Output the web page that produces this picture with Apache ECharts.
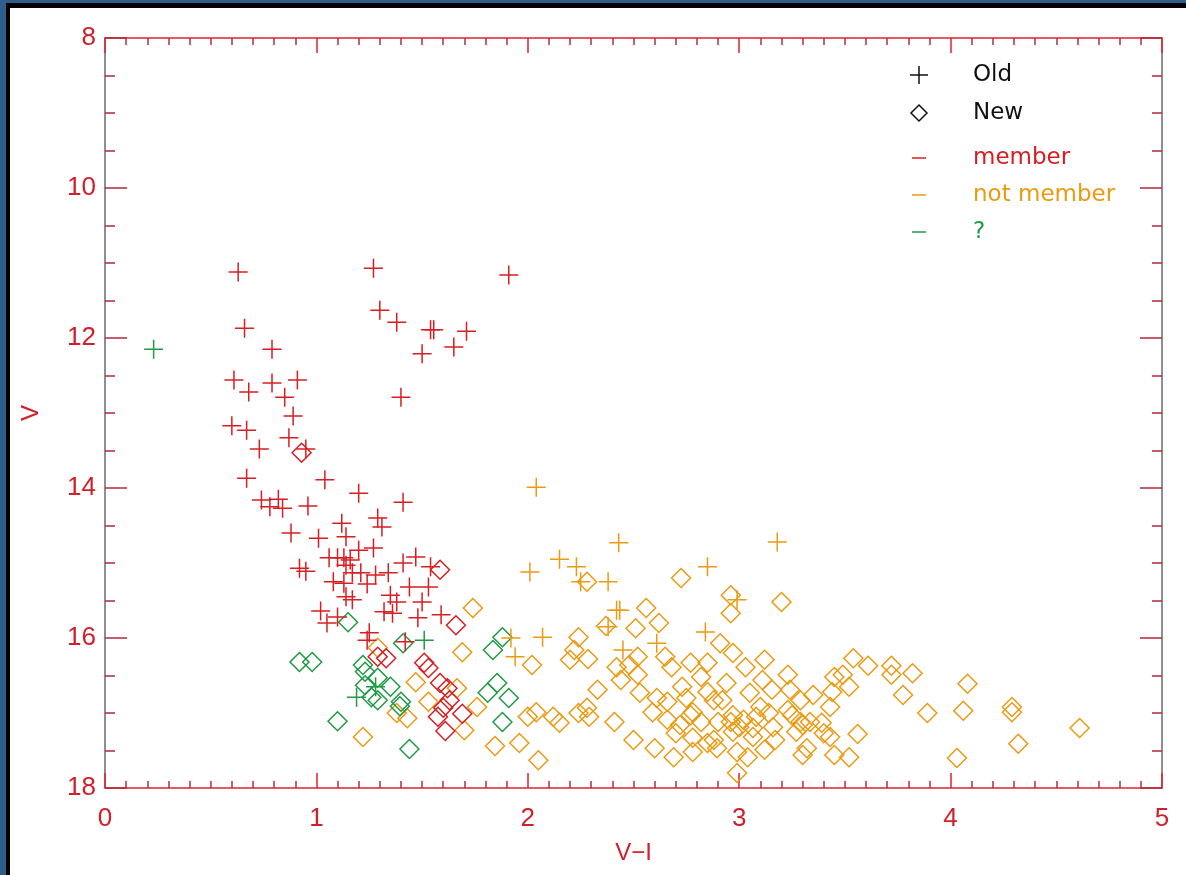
<!DOCTYPE html>
<html>
<head>
<meta charset="utf-8">
<script src="https://cdn.jsdelivr.net/npm/echarts@6/dist/echarts.min.js"></script>
<style>
html,body{margin:0;padding:0;width:1186px;height:875px;overflow:hidden;background:#2c5d8d;}
#frame{position:absolute;left:6px;top:3px;width:1180px;height:872px;background:#000;}
#paper{position:absolute;left:10px;top:8px;width:1176px;height:867px;background:#fff;}
#chart{position:absolute;left:0;top:0;width:1186px;height:875px;}
</style>
</head>
<body>
<div id="frame"></div>
<div id="paper"></div>
<div id="chart"></div>
<script>
// ---- data: [V-I, V] ----
const oldMember = [[0.63,11.12],[1.27,11.07],[1.91,11.16],[0.66,11.87],[1.30,11.63],[1.38,11.79],[1.54,11.89],[1.555,11.89],[1.71,11.91],[1.65,12.12],[1.50,12.21],[0.79,12.15],[0.61,12.56],[0.68,12.72],[0.79,12.60],[0.85,12.79],[0.91,12.56],[1.40,12.79],[0.89,13.04],[0.60,13.17],[0.67,13.23],[0.87,13.33],[0.73,13.48],[0.95,13.48],[0.67,13.87],[1.04,13.89],[1.20,14.07],[1.41,14.19],[0.74,14.16],[0.78,14.25],[0.82,14.15],[0.84,14.27],[0.96,14.24],[1.12,14.47],[1.29,14.40],[1.31,14.52],[0.88,14.60],[1.01,14.67],[1.14,14.65],[1.27,14.80],[1.20,14.83],[1.10,14.93],[1.13,14.93],[1.16,14.96],[1.06,14.93],[1.47,14.92],[1.41,15.00],[0.92,15.07],[0.95,15.11],[1.14,15.03],[1.17,15.13],[1.21,15.13],[1.34,15.13],[1.28,15.16],[1.08,15.25],[1.13,15.27],[1.24,15.28],[1.54,15.05],[1.53,15.32],[1.44,15.32],[1.35,15.43],[1.14,15.45],[1.17,15.49],[1.38,15.52],[1.50,15.52],[1.02,15.64],[1.10,15.72],[1.05,15.80],[1.32,15.65],[1.36,15.67],[1.48,15.73],[1.59,15.69],[1.25,15.93],[1.24,16.03],[1.42,16.05]];
const oldNotMember = [[2.04,13.99],[2.43,14.73],[3.18,14.72],[2.15,14.95],[2.23,15.05],[2.01,15.12],[2.85,15.05],[2.25,15.25],[2.38,15.25],[2.42,15.63],[2.435,15.63],[2.38,15.85],[2.99,15.49],[2.07,15.99],[2.61,16.07],[2.84,15.92],[2.45,16.16],[1.94,16.25],[1.92,16.00]];
const oldUnknown = [[0.23,12.15],[1.51,16.03],[1.19,16.79],[1.28,16.65]];
const newMember = [[0.93,13.53],[1.585,15.09],[1.66,15.83],[1.29,16.25],[1.33,16.27],[1.51,16.33],[1.53,16.40],[1.585,16.60],[1.62,16.67],[1.63,16.83],[1.60,16.93],[1.575,17.05],[1.61,17.24],[1.69,17.01]];
const newNotMember = [[1.74,15.60],[1.69,16.19],[1.29,16.13],[1.47,16.59],[1.53,16.85],[1.665,16.67],[1.70,17.23],[1.43,17.07],[1.22,17.32],[1.76,16.92],[1.845,17.44],[1.38,17.00],[1.96,17.40],[2.02,16.36],[2.05,17.63],[2.00,17.05],[2.04,16.99],[2.12,17.05],[2.15,17.13],[2.24,17.00],[2.28,16.93],[2.29,17.05],[2.33,16.69],[2.41,17.12],[2.24,15.99],[2.22,16.16],[2.20,16.29],[2.285,16.28],[2.28,15.25],[2.37,15.84],[2.51,15.87],[2.56,15.60],[2.62,15.80],[2.725,15.20],[2.96,15.43],[2.96,15.67],[3.20,15.52],[2.42,16.39],[2.48,16.36],[2.52,16.25],[2.52,16.49],[2.44,16.56],[2.65,16.25],[2.68,16.39],[2.77,16.33],[2.85,16.33],[2.82,16.52],[2.73,16.65],[2.85,16.72],[2.91,16.07],[2.97,16.20],[3.03,16.39],[3.12,16.29],[3.23,16.49],[2.53,16.73],[2.61,16.80],[2.66,16.85],[2.75,16.80],[2.78,16.99],[2.88,16.83],[2.92,16.83],[2.94,16.60],[3.05,16.73],[3.11,16.56],[3.155,16.69],[3.24,16.69],[3.29,16.83],[3.35,16.76],[3.10,16.92],[3.14,17.00],[3.23,16.96],[3.25,17.03],[3.335,17.12],[2.59,16.99],[2.66,17.09],[2.72,17.16],[2.77,17.03],[2.82,17.12],[2.90,17.12],[2.96,17.12],[3.00,17.19],[3.065,17.20],[3.16,17.19],[3.29,17.12],[2.70,17.27],[2.78,17.33],[2.85,17.40],[2.97,17.25],[3.065,17.32],[3.17,17.36],[3.27,17.25],[3.32,17.47],[2.50,17.36],[2.60,17.47],[2.69,17.59],[2.78,17.52],[2.88,17.36],[2.895,17.47],[2.99,17.52],[3.04,17.59],[3.12,17.49],[3.30,17.56],[2.99,17.80],[3.54,16.27],[3.61,16.37],[3.72,16.37],[3.72,16.49],[3.82,16.47],[3.775,16.76],[4.08,16.61],[3.89,17.00],[4.06,16.97],[4.29,16.92],[4.29,16.99],[4.32,17.41],[4.03,17.60],[3.56,17.28],[3.45,17.56],[3.52,17.59],[3.44,16.72],[3.45,16.52],[3.49,16.49],[3.52,16.65],[3.43,16.92],[3.30,17.16],[3.39,17.13],[3.40,17.27],[3.43,17.32],[4.61,17.20],[3.08,17.05],[3.02,17.09],[2.97,17.03]];
const newUnknown = [[0.92,16.32],[0.98,16.32],[1.15,15.79],[1.22,16.36],[1.23,16.45],[1.23,16.63],[1.29,16.53],[1.26,16.79],[1.29,16.83],[1.35,16.65],[1.40,16.85],[1.395,16.91],[1.10,17.11],[1.44,17.48],[1.41,16.07],[1.835,16.16],[1.88,15.99],[1.81,16.73],[1.855,16.60],[1.91,16.80],[1.88,17.12]];
const xTicks = [0,1,2,3,4,5];
const yTicks = [8,10,12,14,16,18];
const legendItems = ['Old','New','member','not member','?'];

// ---- styles ----
const RED = '#d81e22', ORANGE = '#ec9a12', GREEN = '#1f9a45';
const AXRED = '#dc2432', AXGRAY = '#6a6a6a';
const CROSS = 'path://M10,0L10,20M0,10L20,10';
const FONT = 'Liberation Sans';

function sc(name, data, symbol, color) {
  return {
    name: name, type: 'scatter', data: data, symbol: symbol,
    symbolSize: 19, symbolKeepAspect: true,
    xAxisIndex: 0, yAxisIndex: 0,
    itemStyle: {color: 'rgba(0,0,0,0)', borderColor: color, borderWidth: 1.5, opacity: 1},
    emphasis: {disabled: true}, silent: true, z: 3
  };
}

function xAx(pos, showLabel) {
  return {
    type: 'value', position: pos, min: xTicks[0], max: xTicks[xTicks.length-1], interval: 1,
    axisLine: {show: true, onZero: false, lineStyle: {color: AXRED, width: 1.5}},
    axisTick: {show: true, inside: true, length: 15, lineStyle: {color: AXRED, width: 1.5}},
    minorTick: {show: true, splitNumber: 10, length: 7, lineStyle: {color: '#b0303a', width: 1.5}},
    splitLine: {show: false}, minorSplitLine: {show: false},
    axisLabel: {show: showLabel, color: '#d0202a', fontSize: 26, fontFamily: FONT, margin: 18},
    name: showLabel ? 'V\u2212I' : '', nameLocation: 'middle', nameGap: 53,
    nameTextStyle: {color: '#d0202a', fontSize: 24, fontFamily: FONT}
  };
}
function yAx(pos, showLabel) {
  return {
    type: 'value', position: pos, min: yTicks[0], max: yTicks[yTicks.length-1], interval: 2, inverse: true,
    axisLine: {show: true, onZero: false, lineStyle: {color: AXGRAY, width: 1.5}},
    axisTick: {show: true, inside: true, length: 22, lineStyle: {color: '#b3283a', width: 1.5}},
    minorTick: {show: true, splitNumber: 4, length: 10, lineStyle: {color: '#b3283a', width: 1.5}},
    splitLine: {show: false}, minorSplitLine: {show: false},
    axisLabel: {show: showLabel, color: '#d0202a', fontSize: 26, fontFamily: FONT, margin: 9},
    name: showLabel ? 'V' : '', nameLocation: 'middle', nameGap: 62, nameRotate: 90,
    nameTextStyle: {color: '#d0202a', fontSize: 24, fontFamily: FONT}
  };
}

const lx = 919, tx = 973;
const ly = [75, 113, 158, 195, 232];
const lc = ['#111', '#111', RED, ORANGE, GREEN];
const graphics = [
  {type: 'line', shape: {x1: lx-9, y1: ly[0], x2: lx+9, y2: ly[0]}, style: {stroke: '#111', lineWidth: 1.5}},
  {type: 'line', shape: {x1: lx, y1: ly[0]-9, x2: lx, y2: ly[0]+9}, style: {stroke: '#111', lineWidth: 1.5}},
  {type: 'polygon', shape: {points: [[lx, ly[1]-8], [lx+8, ly[1]], [lx, ly[1]+8], [lx-8, ly[1]]]}, style: {fill: 'none', stroke: '#111', lineWidth: 1.5}},
  {type: 'line', shape: {x1: lx-7, y1: ly[2], x2: lx+7, y2: ly[2]}, style: {stroke: RED, lineWidth: 1.5}},
  {type: 'line', shape: {x1: lx-7, y1: ly[3], x2: lx+7, y2: ly[3]}, style: {stroke: ORANGE, lineWidth: 1.5}},
  {type: 'line', shape: {x1: lx-7, y1: ly[4], x2: lx+7, y2: ly[4]}, style: {stroke: GREEN, lineWidth: 1.5}}
];
legendItems.forEach(function (t, i) {
  graphics.push({type: 'text', x: tx, y: ly[i], style: {text: t, fill: lc[i], font: '23px "DejaVu Sans"', textVerticalAlign: 'middle', verticalAlign: 'middle'}});
});

const chart = echarts.init(document.getElementById('chart'), null, {renderer: 'canvas'});
chart.setOption({
  animation: false,
  backgroundColor: 'transparent',
  grid: {left: 105, right: 24, top: 38, bottom: 87, containLabel: false},
  xAxis: [xAx('bottom', true), xAx('top', false)],
  yAxis: [yAx('left', true), yAx('right', false)],
  series: [
    sc('New not member', newNotMember, 'diamond', ORANGE),
    sc('New ?', newUnknown, 'diamond', GREEN),
    sc('New member', newMember, 'diamond', RED),
    sc('Old not member', oldNotMember, CROSS, ORANGE),
    sc('Old member', oldMember, CROSS, RED),
    sc('Old ?', oldUnknown, CROSS, GREEN)
  ],
  graphic: graphics
});
</script>
</body>
</html>
